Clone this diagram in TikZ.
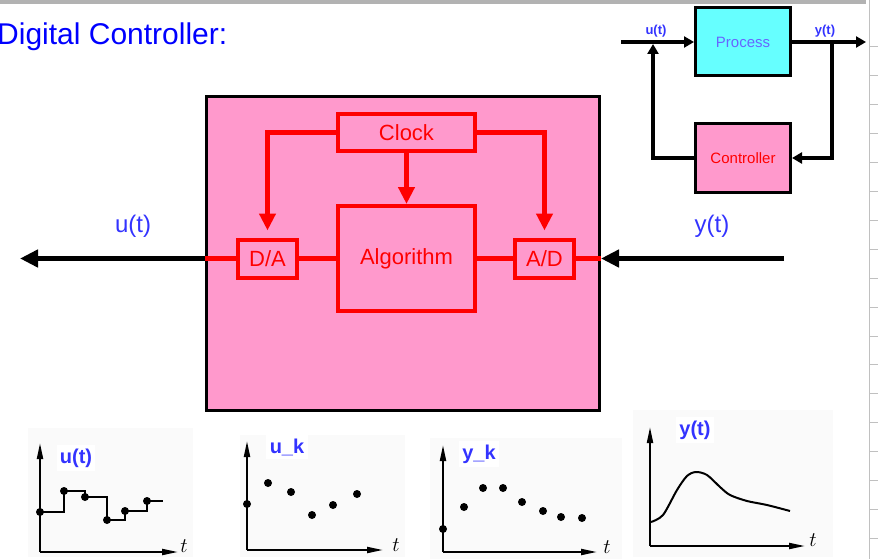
\documentclass[tikz,border=0pt]{standalone}
\usepackage{fontspec}
\setmainfont{Liberation Sans}
\usetikzlibrary{arrows.meta, positioning}

\definecolor{boxpink}{RGB}{255,153,204}
\definecolor{proccyan}{RGB}{102,255,255}
\definecolor{sigblue}{RGB}{51,51,255}
\definecolor{procblue}{RGB}{102,102,255}
\definecolor{topgray}{RGB}{178,178,178}
\definecolor{rulergray}{RGB}{192,192,192}

\begin{document}
\begin{tikzpicture}[x=1pt, y=-1pt,
    ctlbox/.style={draw, line width=3pt, fill=boxpink,
      minimum width=393pt, minimum height=314pt},
    blk/.style={draw=red, line width=4pt, text=red,
      font=\fontsize{22}{26}\selectfont, inner sep=0pt},
    pbox/.style={draw, line width=3pt, fill=proccyan, text=procblue,
      minimum width=95pt, minimum height=68pt, font=\fontsize{15}{18}\selectfont},
    cbox/.style={draw, line width=3pt, fill=boxpink, text=red,
      minimum width=95pt, minimum height=68pt, font=\fontsize{15}{18}\selectfont},
    sig/.style={text=sigblue, font=\fontsize{24}{28}\selectfont},
    minlbl/.style={text=sigblue, font=\bfseries\fontsize{13}{15}\selectfont, inner sep=0pt},
    plbl/.style={text=sigblue, fill=white, font=\bfseries\fontsize{20}{24}\selectfont},
    tlbl/.style={font=\fontsize{22}{24}\selectfont, inner sep=0pt},
    redln/.style={red, line width=5pt},
    clkarr/.style={red, line width=5pt, -{Triangle[length=17pt,width=16pt]}},
    bigarr/.style={line width=5pt, -{Triangle[length=18pt,width=17pt]}},
    minarr/.style={line width=4pt, -{Triangle[length=10pt,width=11pt]}},
    axarr/.style={line width=2pt, -{Triangle[length=16pt,width=6pt]}},
    plotbg/.style={fill=black!2},
    node distance=40pt
  ]
    \useasboundingbox (0,0) rectangle (878,559);
    % slide frame
    \fill[topgray] (0,0) rectangle (866,4);
    \draw[rulergray, line width=1pt] (869,0) -- (869,559);
    \foreach \k in {0,...,17}
      \draw[rulergray, line width=1pt] (869,{47+28.9*\k}) -- (878,{47+28.9*\k});

    \node[anchor=base west, inner sep=0pt, text=blue,
      font=\fontsize{30}{34}\selectfont] (ttl) at (-3,45) {Digital Controller:};

    % controller block
    \node[ctlbox] (ctl) at (403,253.5) {};
    \node[blk, minimum width=137pt, minimum height=37pt] (clk) at (406.5,132.5) {Clock};
    \node[blk, minimum width=137pt, minimum height=105pt, below=51pt of clk] (alg) {Algorithm};
    \node[blk, minimum width=59pt, minimum height=38pt, left=37pt of alg] (da) {D/A};
    \node[blk, minimum width=59pt, minimum height=38pt, right=36pt of alg] (ad) {A/D};
    \draw[clkarr, shorten >=7pt] (clk.west) -| (da.north);
    \draw[clkarr, shorten >=7pt] (clk.east) -| (ad.north);
    \draw[clkarr] (clk.south) -- (alg.north);
    \draw[redln] (ctl.west |- da) -- (da.west);
    \draw[redln] (da.east) -- (alg.west);
    \draw[redln] (alg.east) -- (ad.west);
    \draw[redln] (ad.east) -- (ctl.east |- ad);

    \coordinate (uout) at (da -| 20,0);
    \coordinate (yin) at (ad -| 784,0);
    \draw[bigarr] (ctl.west |- da) -- (uout);
    \draw[bigarr] (yin) -- (ctl.east |- ad);
    \node[sig] (lu) at (133,226) {u(t)};
    \node[sig] (ly) at (712,226) {y(t)};

    % feedback loop
    \node[pbox] (proc) at (743,42) {Process};
    \node[cbox, below=45pt of proc] (cont) {Controller};
    \coordinate (uin) at (621,42);
    \coordinate (yout) at (866,42);
    \coordinate (fbl) at (653,42);
    \coordinate (fbr) at (832,42);
    \draw[minarr] (uin) -- (proc.west);
    \draw[minarr] (proc.east) -- (yout);
    \draw[minarr, shorten >=2pt] (cont.west) -| (fbl);
    \draw[minarr] (fbr) |- (cont.east);
    \node[minlbl] (mu) at (656,31) {u(t)};
    \node[minlbl] (my) at (825,31) {y(t)};

    % u(t)
    \fill[plotbg] (28,428) rectangle (193,557);
    \draw[axarr] (40,552) -- (40,443);
    \draw[axarr] (40,552) -- (178,552);
    \node[tlbl] (t1) at (184,546) {$t$};
    \node[plbl] (l1) at (76,458) {u(t)};
    \draw[line width=2pt] (40,512) -- (64,512) -- (64,491) -- (85,491) -- (85,497)
      -- (107,497) -- (107,520) -- (125,520) -- (125,511) -- (147,511)
      -- (147,501) -- (163,501);
    \foreach \px/\py in {40/512, 64/491, 85/497, 107/520, 125/511, 147/501}
      \fill (\px,\py) circle[radius=4pt];

    % u_k
    \fill[plotbg] (240,435) rectangle (405,557);
    \draw[axarr] (247,550) -- (247,441);
    \draw[axarr] (247,550) -- (383,550);
    \node[tlbl] (t2) at (396,545) {$t$};
    \node[plbl] (l2) at (287,447) {u\_k};
    \foreach \px/\py in {247/504, 268/483, 291/492, 312/515, 333/505, 357/494}
      \fill (\px,\py) circle[radius=4pt];

    % y_k
    \fill[plotbg] (430,438) rectangle (622,559);
    \draw[axarr] (443,552) -- (443,445);
    \draw[axarr] (443,552) -- (597,552);
    \node[tlbl] (t3) at (607,547) {$t$};
    \node[plbl] (l3) at (479,454) {y\_k};
    \foreach \px/\py in {443/529, 464/507, 483/488, 503/488, 522/502, 543/511, 561/517, 582/518}
      \fill (\px,\py) circle[radius=4pt];

    % y(t)
    \fill[plotbg] (633,410) rectangle (833,557);
    \draw[axarr] (650,546) -- (650,427);
    \draw[axarr] (650,546) -- (805,546);
    \node[tlbl] (t4) at (813,540) {$t$};
    \node[plbl] (l4) at (695,430) {y(t)};
    \draw[line width=2pt] plot[smooth] coordinates {(651,522) (663,515) (677,490)
      (687,476) (696,472) (707,475) (720,487) (730,495) (747,501) (767,505) (790,511)};
  \end{tikzpicture}
\end{document}
